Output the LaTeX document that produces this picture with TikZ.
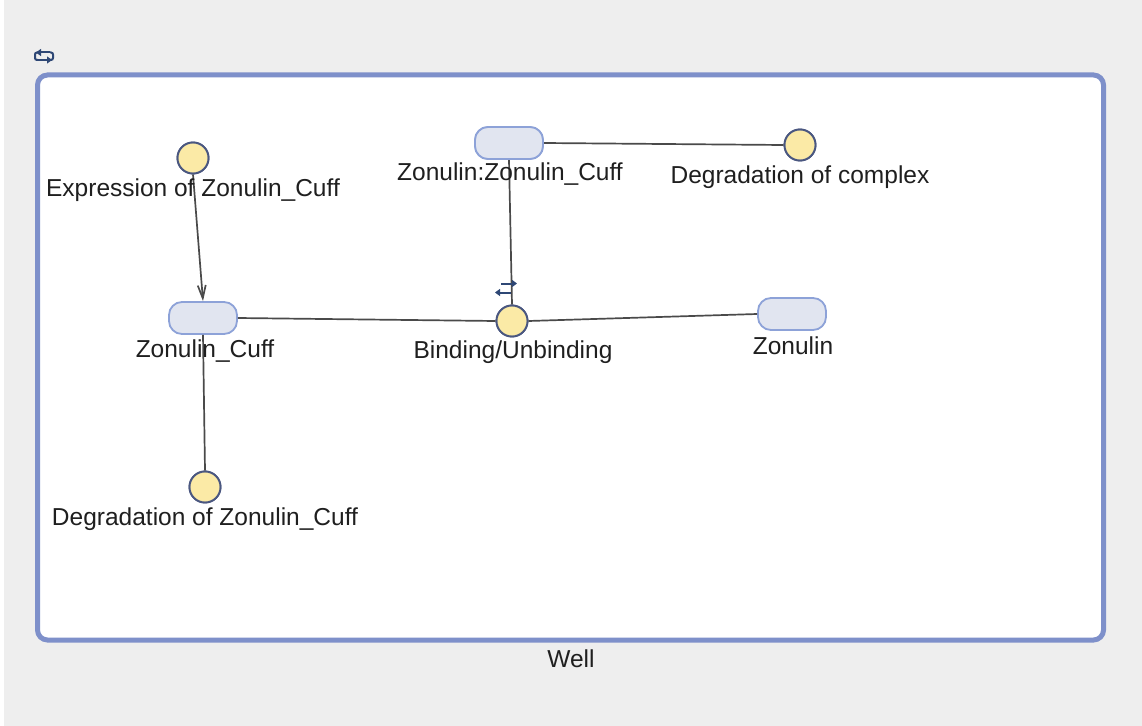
\documentclass[tikz,border=0pt]{standalone}
\usepackage{fontspec}
\setmainfont{Liberation Sans}
\usetikzlibrary{arrows.meta}
\definecolor{bgray}{HTML}{EEEEEE}
\definecolor{wellblue}{HTML}{7E90CA}
\definecolor{specfill}{HTML}{E1E5F0}
\definecolor{specdraw}{HTML}{8DA2D8}
\definecolor{rxnfill}{HTML}{FBEAA6}
\definecolor{rxndraw}{HTML}{4A5780}
\definecolor{edgegray}{HTML}{4A4A4A}
\definecolor{iconblue}{HTML}{2E4775}
\tikzset{
  species/.style={draw=specdraw, fill=specfill, line width=1.8bp, rounded corners=13bp,
    minimum width=68bp, minimum height=32bp, inner sep=0pt},
  reaction/.style={circle, draw=rxndraw, fill=rxnfill, line width=1.9bp,
    minimum size=31bp, inner sep=0pt},
  lbl/.style={font=\fontsize{24.5bp}{28bp}\selectfont, text=black!88, inner sep=0pt},
  link/.style={draw=edgegray, line width=1.7bp},
  icon/.style={draw=iconblue, line width=2bp, -{Triangle[length=5bp,width=7bp]}}
}
\begin{document}
\begin{tikzpicture}[x=1bp, y=-1bp]
  % canvas
  \useasboundingbox (0,0) rectangle (1142,726);
  \fill[bgray] (0,0) rectangle (1142,726);
  \fill[white] (0,0) rectangle (4,726);

  % compartment
  \draw[wellblue, line width=5bp, fill=white, rounded corners=10bp]
    (37.5,75) rectangle (1103.5,640);
  \node[lbl] (well) at (571,659) {Well};

  % compartment icon
  \draw[icon] (50,52.5) -- (36,52.5);
  \draw[draw=iconblue, line width=2bp, rounded corners=2bp] (50,52.5) -- (53,52.5) -- (53,60) -- (50,60);
  \draw[icon] (38,60) -- (52,60);
  \draw[draw=iconblue, line width=2bp, rounded corners=2bp] (38,60) -- (35,60) -- (35,52.5) -- (38,52.5);

  % reactions
  \node[reaction] (expr) at (193,158) {};
  \node[reaction] (degzc) at (205,487) {};
  \node[reaction] (degcx) at (800,145) {};
  \node[reaction] (bind) at (512,321) {};

  % species
  \node[species] (zc) at (203,318) {};
  \node[species] (zzc) at (509,143) {};
  \node[species] (zon) at (792,314) {};

  % connectors
  \draw[link] (zc.east) -- (bind.west);
  \draw[link] (bind.east) -- (zon.west);
  \draw[link] (zzc.east) -- (degcx.west);
  \draw[link] (zc.south) -- (degzc.north);
  \draw[link] (zzc.south) -- (bind.north);
  \draw[link, -{Straight Barb[length=13bp,width=8bp]}] (expr.south) -- (zc.north);

  % redraw shapes over the connector ends
  \node[reaction] at (expr) {};
  \node[reaction] at (degzc) {};
  \node[reaction] at (degcx) {};
  \node[reaction] at (bind) {};
  \node[species] at (zzc) {};

  % reversibility mark on the binding reaction
  \draw[icon] (501,283.5) -- (517,283.5);
  \draw[icon] (511,292.5) -- (495,292.5);

  % labels
  \node[lbl] (lexpr) at (193,190) {Expression of Zonulin\_Cuff};
  \node[lbl] (lzc) at (205,351) {Zonulin\_Cuff};
  \node[lbl] (ldegzc) at (205,519) {Degradation of Zonulin\_Cuff};
  \node[lbl] (lzzc) at (510,174) {Zonulin:Zonulin\_Cuff};
  \node[lbl] (ldegcx) at (800,177) {Degradation of complex};
  \node[lbl] (lbind) at (513,352) {Binding/Unbinding};
  \node[lbl] (lzon) at (793,346) {Zonulin};
\end{tikzpicture}
\end{document}
